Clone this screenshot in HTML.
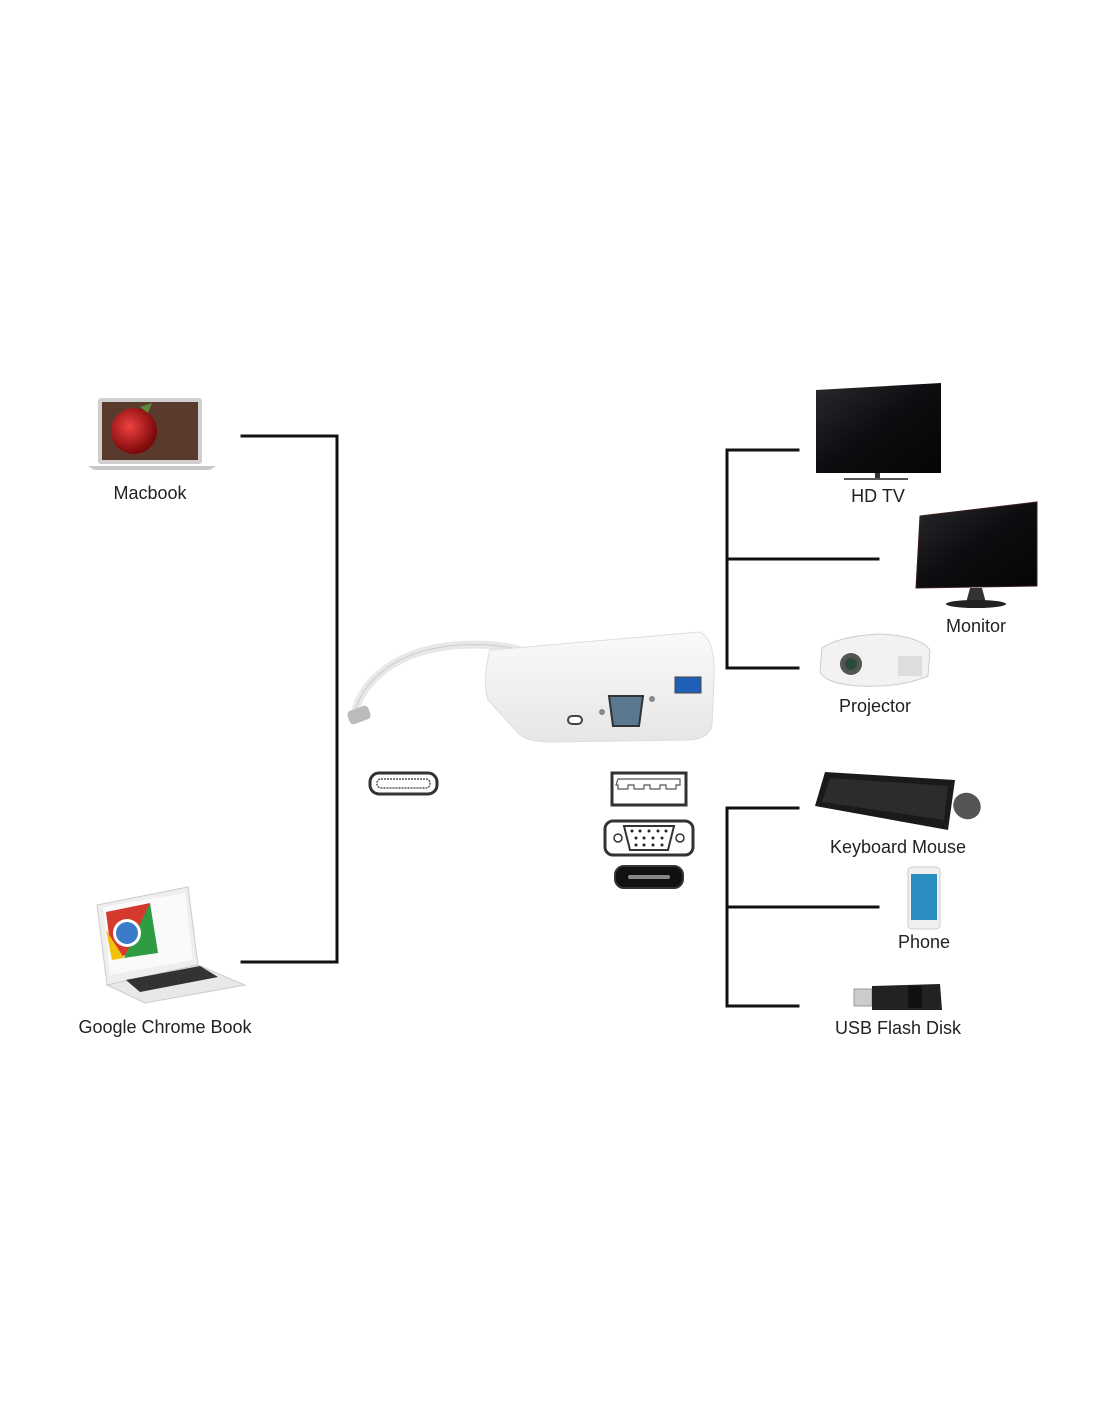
<!DOCTYPE html>
<html><head><meta charset="utf-8"><style>
html,body{margin:0;padding:0;background:#fff;}
svg{display:block;}
text{font-family:"Liberation Sans","DejaVu Sans",sans-serif;font-size:18px;fill:#222;}
</style></head><body>
<svg width="1100" height="1422" viewBox="0 0 1100 1422" xmlns="http://www.w3.org/2000/svg">
<defs>
<linearGradient id="scr" x1="0" y1="0" x2="1" y2="1"><stop offset="0" stop-color="#2a2a2e"/><stop offset="0.5" stop-color="#0d0d10"/><stop offset="1" stop-color="#050505"/></linearGradient>
<radialGradient id="apple" cx="0.4" cy="0.4" r="0.6"><stop offset="0" stop-color="#f04040"/><stop offset="1" stop-color="#7a0808"/></radialGradient>
<linearGradient id="ad" x1="0" y1="0" x2="0" y2="1"><stop offset="0" stop-color="#fafafa"/><stop offset="1" stop-color="#e6e6e6"/></linearGradient>
</defs>
<g stroke="#111" stroke-width="3" fill="none" stroke-linecap="square">
<polyline points="242,436 337,436 337,962 242,962"/>
<polyline points="798,450 727,450 727,668 798,668"/>
<line x1="727" y1="559" x2="878" y2="559"/>
<polyline points="798,808 727,808 727,1006 798,1006"/>
<line x1="727" y1="907" x2="878" y2="907"/>
</g>
<!-- Macbook -->
<rect x="98" y="398" width="104" height="66" rx="3" fill="#cfcfcf"/>
<rect x="102" y="402" width="96" height="58" fill="#5a3a2c"/>
<circle cx="134" cy="431" r="23" fill="url(#apple)"/>
<path d="M140 407 l12 -4 l-4 10z" fill="#5a8a3a"/>
<path d="M88 466 h128 l-6 4 h-116z" fill="#c8c8c8"/>
<text x="150" y="499" text-anchor="middle">Macbook</text>
<!-- Chromebook -->
<path d="M97 905 L188 887 L198 965 L107 985z" fill="#eee" stroke="#ccc"/>
<path d="M103 907 L185 893 L193 960 L110 975z" fill="#fafafa"/>
<path d="M106 912 L150 903 L155 945 L112 960z" fill="#d63a2e"/>
<path d="M150 903 L158 953 L124 958z" fill="#2f9c44"/>
<path d="M106 930 L124 958 L112 960z" fill="#f3c10c"/>
<circle cx="127" cy="933" r="14" fill="#fff"/>
<circle cx="127" cy="933" r="11" fill="#3c7bc8"/>
<path d="M107 985 L198 965 L245 985 L145 1003z" fill="#e8e8e8" stroke="#ccc"/>
<path d="M126 980 L200 966 L218 977 L140 992z" fill="#333"/>
<text x="165" y="1033" text-anchor="middle">Google Chrome Book</text>
<!-- Adapter -->
<path d="M355 712 C 360 690, 380 665, 420 652 C 450 643, 490 642, 520 650" fill="none" stroke="#e8e8e8" stroke-width="8"/>
<path d="M355 712 C 360 690, 380 665, 420 652 C 450 643, 490 642, 520 650" fill="none" stroke="#ccc" stroke-width="1"/>
<rect x="348" y="708" width="22" height="14" rx="4" fill="#bbb" transform="rotate(-20 359 715)"/>
<path d="M490 650 L700 632 Q716 640 714 680 L712 725 Q710 738 690 740 L550 742 Q530 742 520 735 L488 700 Q482 680 490 650z" fill="url(#ad)" stroke="#ddd"/>
<rect x="568" y="716" width="14" height="8" rx="4" fill="#fff" stroke="#444" stroke-width="2"/>
<circle cx="602" cy="712" r="3" fill="#888"/>
<path d="M609 696 h34 l-4 30 h-26z" fill="#5a7890" stroke="#333" stroke-width="2"/>
<circle cx="652" cy="699" r="3" fill="#888"/>
<rect x="675" y="677" width="26" height="16" fill="#1f5fb8" stroke="#444"/>
<!-- Port icons -->
<rect x="370" y="773" width="67" height="21" rx="9" fill="#fff" stroke="#333" stroke-width="3"/>
<rect x="377" y="779" width="53" height="9" rx="4" fill="#fff" stroke="#555" stroke-width="1.5" stroke-dasharray="2 1"/>
<rect x="612" y="773" width="74" height="32" fill="#fff" stroke="#333" stroke-width="3"/>
<path d="M618 779 h62 v6 h-4 v4 h-10 v-4 h-6 v4 h-10 v-4 h-6 v4 h-10 v-4 h-6 v4 h-10 v-4 h-2z" fill="none" stroke="#555" stroke-width="1.2"/>
<rect x="605" y="821" width="88" height="34" rx="8" fill="#fff" stroke="#333" stroke-width="3"/>
<circle cx="618" cy="838" r="4" fill="none" stroke="#333" stroke-width="1.5"/>
<circle cx="680" cy="838" r="4" fill="none" stroke="#333" stroke-width="1.5"/>
<path d="M624 826 h50 l-6 24 h-38z" fill="none" stroke="#333" stroke-width="2"/>
<g fill="#222"><circle cx="632" cy="831" r="1.5"/><circle cx="640" cy="831" r="1.5"/><circle cx="649" cy="831" r="1.5"/><circle cx="658" cy="831" r="1.5"/><circle cx="666" cy="831" r="1.5"/><circle cx="636" cy="838" r="1.5"/><circle cx="644" cy="838" r="1.5"/><circle cx="653" cy="838" r="1.5"/><circle cx="662" cy="838" r="1.5"/><circle cx="636" cy="845" r="1.5"/><circle cx="644" cy="845" r="1.5"/><circle cx="653" cy="845" r="1.5"/><circle cx="662" cy="845" r="1.5"/></g>
<rect x="615" y="866" width="68" height="22" rx="9" fill="#111" stroke="#333" stroke-width="2"/>
<rect x="628" y="875" width="42" height="4" rx="2" fill="#888"/>
<!-- HD TV -->
<path d="M816 390 L941 383 L941 473 L816 473z" fill="url(#scr)"/>
<line x1="844" y1="479" x2="908" y2="479" stroke="#555" stroke-width="2"/>
<rect x="875" y="473" width="5" height="5" fill="#333"/>
<text x="878" y="502" text-anchor="middle">HD TV</text>
<!-- Monitor -->
<path d="M920 516 L1037 502 L1037 586 L916 588z" fill="url(#scr)" stroke="#3a2020"/>
<path d="M970 588 h12 l4 15 h-20z" fill="#333"/>
<ellipse cx="976" cy="604" rx="30" ry="4" fill="#222"/>
<text x="976" y="632" text-anchor="middle">Monitor</text>
<!-- Projector -->
<path d="M822 648 Q840 636 880 634 Q920 636 930 650 L928 676 Q900 688 860 686 Q826 684 820 672z" fill="#f2f2f2" stroke="#ccc"/>
<circle cx="851" cy="664" r="11" fill="#555"/>
<circle cx="851" cy="664" r="6" fill="#2a4a3a"/>
<rect x="898" y="656" width="24" height="20" fill="#ddd"/>
<text x="875" y="712" text-anchor="middle">Projector</text>
<!-- Keyboard mouse -->
<path d="M825 772 L955 780 L948 830 L815 806z" fill="#1a1a1a"/>
<path d="M830 778 L948 786 L944 820 L822 802z" fill="#2c2c2c"/>
<ellipse cx="967" cy="806" rx="14" ry="13" fill="#555" transform="rotate(30 967 806)"/>
<text x="898" y="853" text-anchor="middle">Keyboard Mouse</text>
<!-- Phone -->
<rect x="908" y="867" width="32" height="62" rx="4" fill="#f0f0f0" stroke="#ccc"/>
<rect x="911" y="874" width="26" height="46" fill="#2a8fc0"/>
<text x="924" y="948" text-anchor="middle">Phone</text>
<!-- USB -->
<rect x="854" y="989" width="18" height="17" fill="#ccc" stroke="#999"/>
<path d="M872 986 L940 984 L942 1010 L872 1010z" fill="#222"/>
<rect x="908" y="986" width="14" height="22" fill="#111"/>
<text x="898" y="1034" text-anchor="middle">USB Flash Disk</text>
</svg>
</body></html>
